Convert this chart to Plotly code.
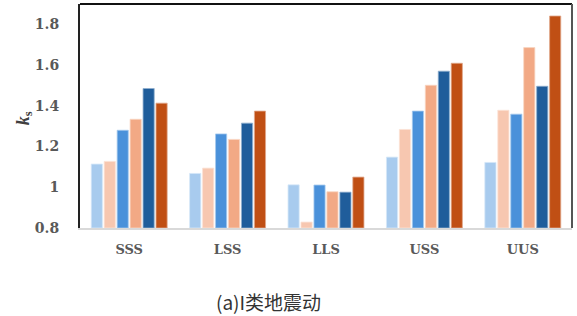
import plotly.graph_objects as go

categories = ["SSS", "LSS", "LLS", "USS", "UUS"]
series_names = ["s1", "s2", "s3", "s4", "s5", "s6"]
values = [
    [1.114, 1.068, 1.012, 1.148, 1.122],
    [1.127, 1.094, 0.829, 1.284, 1.378],
    [1.280, 1.262, 1.011, 1.374, 1.359],
    [1.334, 1.235, 0.978, 1.501, 1.686],
    [1.485, 1.315, 0.976, 1.570, 1.496],
    [1.413, 1.374, 1.050, 1.609, 1.841],
]
baseline = 0.8
colors = ["#A8CBEE", "#F7C7B0", "#4A91DA", "#F2A985", "#1F5D9B", "#C04F14"]
edge_colors = ["#D6E7F8", "#FBE2D6", "#A6C9EE", "#F9D5C2", "#8FAECE", "#E0A78A"]
ytickvals = [0.8, 1.0, 1.2, 1.4, 1.6, 1.8]
yticktext = ["0.8", "1", "1.2", "1.4", "1.6", "1.8"]

fig = go.Figure()
for name, vals, c, ec in zip(series_names, values, colors, edge_colors):
    fig.add_trace(go.Bar(x=categories, y=[v - baseline for v in vals], base=baseline,
                         name=name,
                         marker=dict(color=c, line=dict(color=ec, width=0.8))))

fig.update_layout(
    width=577, height=316,
    margin=dict(l=80, r=5, t=4, b=88),
    paper_bgcolor="white", plot_bgcolor="white",
    barmode="group", bargap=0.21, bargroupgap=0.14,
    showlegend=False,
    font=dict(family="DejaVu Serif", color="#595959"),
    xaxis=dict(showline=True, linecolor="#D9D9D9", linewidth=1.5,
               ticks="", showgrid=False,
               tickfont=dict(family="DejaVu Serif", size=13, color="#595959", weight="bold"),
               ticklabelstandoff=9),
    yaxis=dict(range=[0.8, 1.9], tickvals=ytickvals, ticktext=yticktext,
               showgrid=False, zeroline=False, showline=True, linecolor="#222",
               linewidth=2, ticks="",
               tickfont=dict(family="DejaVu Serif", size=14, color="#595959", weight="bold"),
               ticklabelstandoff=16),
    shapes=[
        dict(type="line", xref="paper", yref="paper", x0=0, x1=1, y0=1, y1=1,
             line=dict(color="#111", width=2)),
        dict(type="line", xref="paper", yref="paper", x0=1, x1=1, y0=0, y1=1,
             line=dict(color="#555", width=2)),
    ],
    annotations=[
        dict(text="<b><i>k</i></b><sub><b>s</b></sub>", xref="paper", yref="paper",
             x=-0.114, y=0.49, xanchor="center", yanchor="middle",
             showarrow=False, textangle=-90,
             font=dict(family="Liberation Serif", size=18, color="#404040")),
        dict(text="(a)I类地震动", xref="paper", yref="paper", x=0.384, y=-0.33,
             xanchor="center", yanchor="middle", showarrow=False,
             font=dict(family="Noto Sans CJK SC", size=19, color="#333333")),
    ],
)
fig.write_html("out.html", config={"displayModeBar": False},
               post_script="document.body.style.margin='0';")
